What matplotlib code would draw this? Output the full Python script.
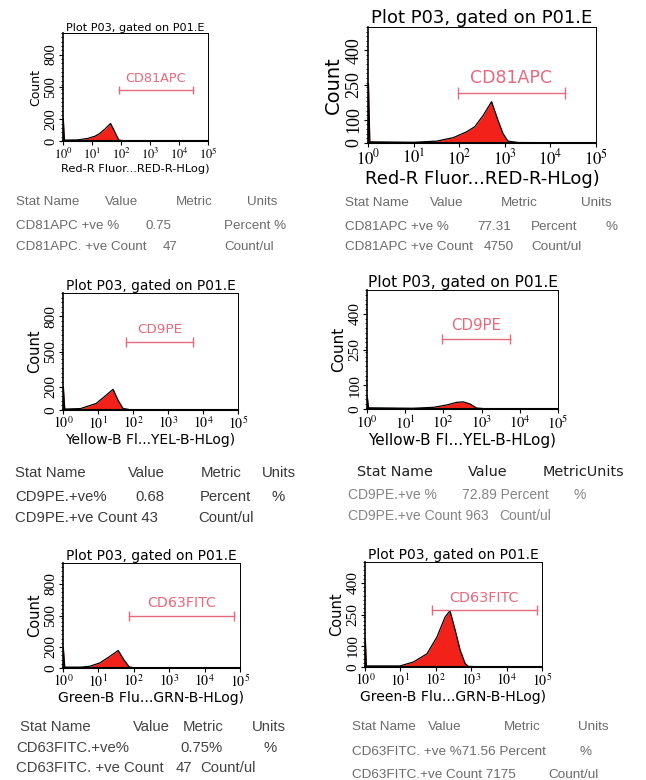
import numpy as np
import matplotlib
matplotlib.use("Agg")
import matplotlib.pyplot as plt
from matplotlib.ticker import FixedLocator, MultipleLocator, NullFormatter

plt.rcParams["mathtext.fontset"] = "stix"

W, H = 646, 780

# histogram traces: log10 intensity and count
p1_logx = [0, 0.01, 0.05, 0.5, 0.86, 1.1, 1.26, 1.45, 1.64, 1.75, 1.85, 1.93, 2.1, 3.0, 5.0]
p1_count = [0, 208, 8, 10, 24, 44, 68, 112, 162, 104, 48, 8, 3, 2, 0]
p2_logx = [0, 0.01, 0.04, 1.0, 1.5, 1.87, 2.16, 2.34, 2.53, 2.71, 2.85, 2.96, 3.07, 3.3, 5.0]
p2_count = [0, 257, 5, 3, 8, 23, 48, 70, 120, 178, 98, 41, 8, 2, 0]
p3_logx = [0, 0.01, 0.05, 0.5, 0.95, 1.24, 1.43, 1.57, 1.71, 1.9, 3.0, 5.0]
p3_count = [0, 200, 8, 12, 56, 128, 177, 86, 14, 3, 2, 0]
p4_logx = [0, 0.01, 0.04, 1.2, 1.74, 2.09, 2.35, 2.52, 2.70, 2.87, 3.1, 5.0]
p4_count = [0, 49, 5, 3, 7, 17, 28, 30, 21, 4, 1, 0]
p5_logx = [0, 0.01, 0.05, 0.5, 0.75, 1.04, 1.32, 1.56, 1.72, 1.87, 2.0, 3.0, 5.0]
p5_count = [0, 189, 8, 8, 16, 48, 110, 167, 78, 10, 3, 2, 0]
p6_logx = [0, 0.01, 0.04, 0.99, 1.37, 1.75, 2.03, 2.26, 2.40, 2.55, 2.69, 2.83, 2.92, 3.2, 5.0]
p6_count = [0, 130, 5, 5, 24, 63, 142, 237, 268, 174, 79, 16, 3, 1, 0]

title = "Plot P03, gated on P01.E"
xlabels = ["Red-R Fluor...RED-R-HLog)", "Red-R Fluor...RED-R-HLog)",
           "Yellow-B Fl...YEL-B-HLog)", "Yellow-B Fl...YEL-B-HLog)",
           "Green-B Flu...GRN-B-HLog)", "Green-B Flu...GRN-B-HLog)"]
gate_names = ["CD81APC", "CD81APC", "CD9PE", "CD9PE", "CD63FITC", "CD63FITC"]
# gate range (log10 lo, log10 hi) and height in counts
gate_lo = [1.93, 1.97, 1.80, 1.96, 1.86, 1.89]
gate_hi = [4.48, 4.32, 3.71, 3.74, 4.83, 4.86]
gate_y = [472, 215, 580, 295, 500, 270]
yticks_left = [0, 200, 500, 800]
yticks_right = [0, 100, 250, 400]
ymax_left = 1000
ymax_right = 500

# stat tables
stats1 = [["Stat Name", "Value", "Metric", "Units"],
          ["CD81APC +ve %", "0.75", "Percent %"],
          ["CD81APC. +ve Count", "47", "Count/ul"]]
stats2 = [["Stat Name", "Value", "Metric", "Units"],
          ["CD81APC +ve %", "77.31", "Percent", "%"],
          ["CD81APC +ve Count", "4750", "Count/ul"]]
stats3 = [["Stat Name", "Value", "Metric", "Units"],
          ["CD9PE.+ve%", "0.68", "Percent", "%"],
          ["CD9PE.+ve Count 43", "Count/ul"]]
stats4 = [["Stat Name", "Value", "MetricUnits"],
          ["CD9PE.+ve %", "72.89 Percent", "%"],
          ["CD9PE.+ve Count 963", "Count/ul"]]
stats5 = [["Stat Name", "Value", "Metric", "Units"],
          ["CD63FITC.+ve%", "0.75%", "%"],
          ["CD63FITC. +ve Count", "47", "Count/ul"]]
stats6 = [["Stat Name", "Value", "Metric", "Units"],
          ["CD63FITC. +ve %71.56 Percent", "%"],
          ["CD63FITC.+ve Count 7175", "Count/ul"]]


def px_rect(left, top, right, bottom):
    return [left / W, 1 - bottom / H, (right - left) / W, (bottom - top) / H]


def draw_panel(fig, rect, logx, count, k, ymax, yticks, fs):
    ax = fig.add_axes(rect)
    x = np.power(10.0, logx)
    ax.fill_between(x, 0, count, color="#f2221a", lw=0)
    ax.plot(x, count, color="black", lw=0.9)
    ax.set_xscale("log")
    ax.set_xlim(1, 1e5)
    ax.set_ylim(0, ymax)

    ax.xaxis.set_major_locator(FixedLocator([1, 10, 100, 1e3, 1e4, 1e5]))
    ax.set_xticklabels(["$10^{%d}$" % i for i in range(6)], fontsize=fs["tick"])
    ax.xaxis.set_minor_formatter(NullFormatter())
    ax.set_yticks(yticks)
    ax.set_yticklabels([str(v) for v in yticks], rotation=90, va="center",
                       fontsize=fs["ytick"], family="Liberation Serif")
    ax.yaxis.set_minor_locator(MultipleLocator(ymax / 25))
    ax.tick_params(axis="both", which="major", length=3, width=0.8, pad=1)
    ax.tick_params(axis="both", which="minor", length=1.5, width=0.6)
    for s in ax.spines.values():
        s.set_linewidth(0.7)
    ax.spines["bottom"].set_linewidth(1.5)
    ax.spines["left"].set_linewidth(1.2)

    ax.set_title(title, fontsize=fs["title"], pad=1.5, family="DejaVu Sans")
    ax.set_xlabel(xlabels[k], fontsize=fs["label"], labelpad=1, family="DejaVu Sans")
    ax.set_ylabel("Count", fontsize=fs["count"], labelpad=1.5, family="DejaVu Sans")

    gcol = "#e8687c"
    lo, hi = 10 ** gate_lo[k], 10 ** gate_hi[k]
    ax.plot([lo, hi], [gate_y[k], gate_y[k]], color=gcol, lw=1.0)
    ax.plot([lo, hi], [gate_y[k], gate_y[k]], ls="none", marker="|",
            ms=fs["cap"], mew=1.0, color=gcol)
    ax.text(np.sqrt(lo * hi), gate_y[k] + ymax * 0.05, gate_names[k], color=gcol,
            ha="center", va="bottom", fontsize=fs["gate"], family="DejaVu Sans")
    return ax


def draw_stats(fig, rows, layout, size, color, family="Liberation Sans", hsize=None,
               hcolor=None, hfamily=None):
    for r, (row, cols) in enumerate(zip(rows, layout["cols"])):
        y = layout["rows"][r]
        for txt, x in zip(row, cols):
            if r == 0:
                fig.text(x / W, 1 - y / H, txt, va="center", ha="left",
                         fontsize=hsize or size, color=hcolor or color,
                         family=hfamily or family)
            else:
                fig.text(x / W, 1 - y / H, txt, va="center", ha="left",
                         fontsize=size, color=color, family=family)


fig = plt.figure(figsize=(W / 100, H / 100), dpi=100)

fs1 = {"tick": 9, "ytick": 10.5, "title": 8.1, "label": 8.2, "count": 9, "gate": 9.2, "cap": 6}
fs2 = {"tick": 12, "ytick": 13, "title": 13, "label": 13, "count": 14, "gate": 12.5, "cap": 8}
fs3 = {"tick": 10, "ytick": 11, "title": 9.9, "label": 10, "count": 10.5, "gate": 9.7, "cap": 7}
fs4 = {"tick": 10.5, "ytick": 11, "title": 11.2, "label": 11, "count": 11, "gate": 10.8, "cap": 7}
fs5 = {"tick": 10, "ytick": 11, "title": 10, "label": 10.1, "count": 10.5, "gate": 10.3, "cap": 7}
fs6 = {"tick": 10, "ytick": 11, "title": 10, "label": 10.1, "count": 10.5, "gate": 10.4, "cap": 7}

draw_panel(fig, px_rect(63, 33, 208, 141), p1_logx, p1_count, 0, ymax_left, yticks_left, fs1)
draw_panel(fig, px_rect(368, 27, 596, 143), p2_logx, p2_count, 1, ymax_right, yticks_right, fs2)
draw_panel(fig, px_rect(63, 293, 238, 410), p3_logx, p3_count, 2, ymax_left, yticks_left, fs3)
draw_panel(fig, px_rect(367, 290, 558, 409), p4_logx, p4_count, 3, ymax_right, yticks_right, fs4)
draw_panel(fig, px_rect(63, 563, 240, 668), p5_logx, p5_count, 4, ymax_left, yticks_left, fs5)
draw_panel(fig, px_rect(365, 562, 542, 667), p6_logx, p6_count, 5, ymax_right, yticks_right, fs6)

draw_stats(fig, stats1, {"rows": [202, 226, 247],
                         "cols": [[16, 105, 176, 247], [16, 146, 224], [16, 163, 224]]},
           9.6, "#6b6b6b")
draw_stats(fig, stats2, {"rows": [203, 227, 247],
                         "cols": [[345, 430, 501, 581], [345, 477, 531, 606], [345, 484, 531]]},
           9.7, "#6b6b6b")
draw_stats(fig, stats3, {"rows": [473, 497, 518],
                         "cols": [[15, 128, 201, 262], [15, 135, 200, 271], [15, 198]]},
           10.7, "#3a3a3a")
draw_stats(fig, stats4, {"rows": [472, 495, 516],
                         "cols": [[357, 468, 543], [348, 462, 573], [348, 499]]},
           10, "#858585", hsize=10.4, hcolor="#222222", hfamily="DejaVu Sans")
draw_stats(fig, stats5, {"rows": [727, 748, 768],
                         "cols": [[20, 133, 183, 252], [16, 180, 263], [16, 176, 200]]},
           10.7, "#444444")
draw_stats(fig, stats6, {"rows": [727, 752, 775],
                         "cols": [[352, 428, 504, 578], [352, 580], [352, 548]]},
           9.7, "#6b6b6b")

fig.savefig("out.png", dpi=100)
